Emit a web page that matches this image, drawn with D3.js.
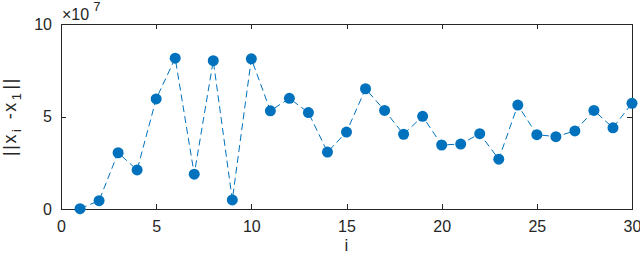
<!DOCTYPE html>
<html>
<head>
<meta charset="utf-8">
<script src="https://cdn.jsdelivr.net/npm/d3@7"></script>
<style>
  body { margin: 0; background: #fff; }
  svg { display: block; font-family: "Liberation Sans", Arial, sans-serif; }
</style>
</head>
<body>
<svg width="640" height="257"></svg>
<script>
// iteration index and distance ||x_i - x_1|| (units of 1e7)
var iters = d3.range(1, 31)
var dist = [0.02, 0.45, 3.04, 2.11, 5.95, 8.15, 1.88, 8.02, 0.49, 8.12,
            5.31, 5.98, 5.21, 3.08, 4.16, 6.50, 5.33, 4.04, 5.01, 3.46,
            3.51, 4.07, 2.69, 5.62, 4.02, 3.91, 4.22, 5.33, 4.39, 5.71]
var xTicks = [0, 5, 10, 15, 20, 25, 30]
var yTicks = [0, 5, 10]

var svg = d3.select('svg')
var axisColor = '#262626'
var blue = '#0072BD'

var mLeft = 61, mRight = 632, mTop = 24, mBottom = 209

var x = d3.scaleLinear().domain([0, 30]).range([mLeft, mRight])
var y = d3.scaleLinear().domain([0, 10]).range([mBottom, mTop])

// box
svg.append('rect')
    .attr('x', mLeft).attr('y', mTop)
    .attr('width', mRight - mLeft).attr('height', mBottom - mTop)
    .style('fill', 'none').style('stroke', axisColor).style('stroke-width', 1)
    .attr('shape-rendering', 'crispEdges')

function styleAxis(g){
    g.select('.domain').remove()
    g.selectAll('line').style('stroke', axisColor).attr('shape-rendering', 'crispEdges')
    g.selectAll('text').style('fill', axisColor).style('font-size', '16px')
        .style('font-family', '"Liberation Sans", Arial, sans-serif')
}

svg.append('g').attr('transform', `translate(0,${mBottom})`)
    .call(d3.axisBottom(x).tickValues(xTicks).tickSizeInner(-5).tickPadding(12))
    .call(styleAxis)
svg.append('g').attr('transform', `translate(0,${mTop})`)
    .call(d3.axisTop(x).tickValues(xTicks).tickSizeInner(-5).tickFormat(''))
    .call(styleAxis)
svg.append('g').attr('transform', `translate(${mLeft},0)`)
    .call(d3.axisLeft(y).tickValues(yTicks).tickSizeInner(-5).tickPadding(9))
    .call(styleAxis)
svg.append('g').attr('transform', `translate(${mRight},0)`)
    .call(d3.axisRight(y).tickValues(yTicks).tickSizeInner(-5).tickFormat(''))
    .call(styleAxis)

// exponent
var ex = svg.append('text').attr('x', mLeft + 1).attr('y', 20)
    .style('fill', axisColor).style('font-size', '16px')
ex.append('tspan').text('\u00d710')
ex.append('tspan').attr('dx', 4).attr('dy', -9).style('font-size', '13px').text('7')

// x label
svg.append('text').attr('x', (mLeft + mRight) / 2).attr('y', 251)
    .attr('text-anchor', 'middle').style('fill', axisColor).style('font-size', '17px').text('i')

// y label
var yl = svg.append('text')
    .attr('transform', 'translate(16,' + (y(5)) + ') rotate(-90)')
    .attr('text-anchor', 'middle').style('fill', axisColor).style('font-size', '18px')
    .style('letter-spacing', '1.5px')
yl.append('tspan').text('||x')
yl.append('tspan').attr('dx', 1).attr('dy', 5).style('font-size', '13px').text('i')
yl.append('tspan').attr('dx', 2).attr('dy', -5).text(' -x')
yl.append('tspan').attr('dx', 1).attr('dy', 5).style('font-size', '13px').text('1')
yl.append('tspan').attr('dx', 2).attr('dy', -5).text('||')

var pts = iters.map((d, i) => ({i: d, v: dist[i]}))

var line = d3.line().x(d => x(d.i)).y(d => y(d.v))
svg.append('path')
    .attr('d', line(pts))
    .style('fill', 'none')
    .style('stroke', blue)
    .style('stroke-width', 1)
    .style('stroke-dasharray', '7,4')

svg.selectAll('circle.pt')
    .data(pts)
    .enter().append('circle')
    .attr('class', 'pt')
    .attr('cx', d => x(d.i))
    .attr('cy', d => y(d.v))
    .attr('r', 5.5)
    .style('fill', blue)
</script>
</body>
</html>
